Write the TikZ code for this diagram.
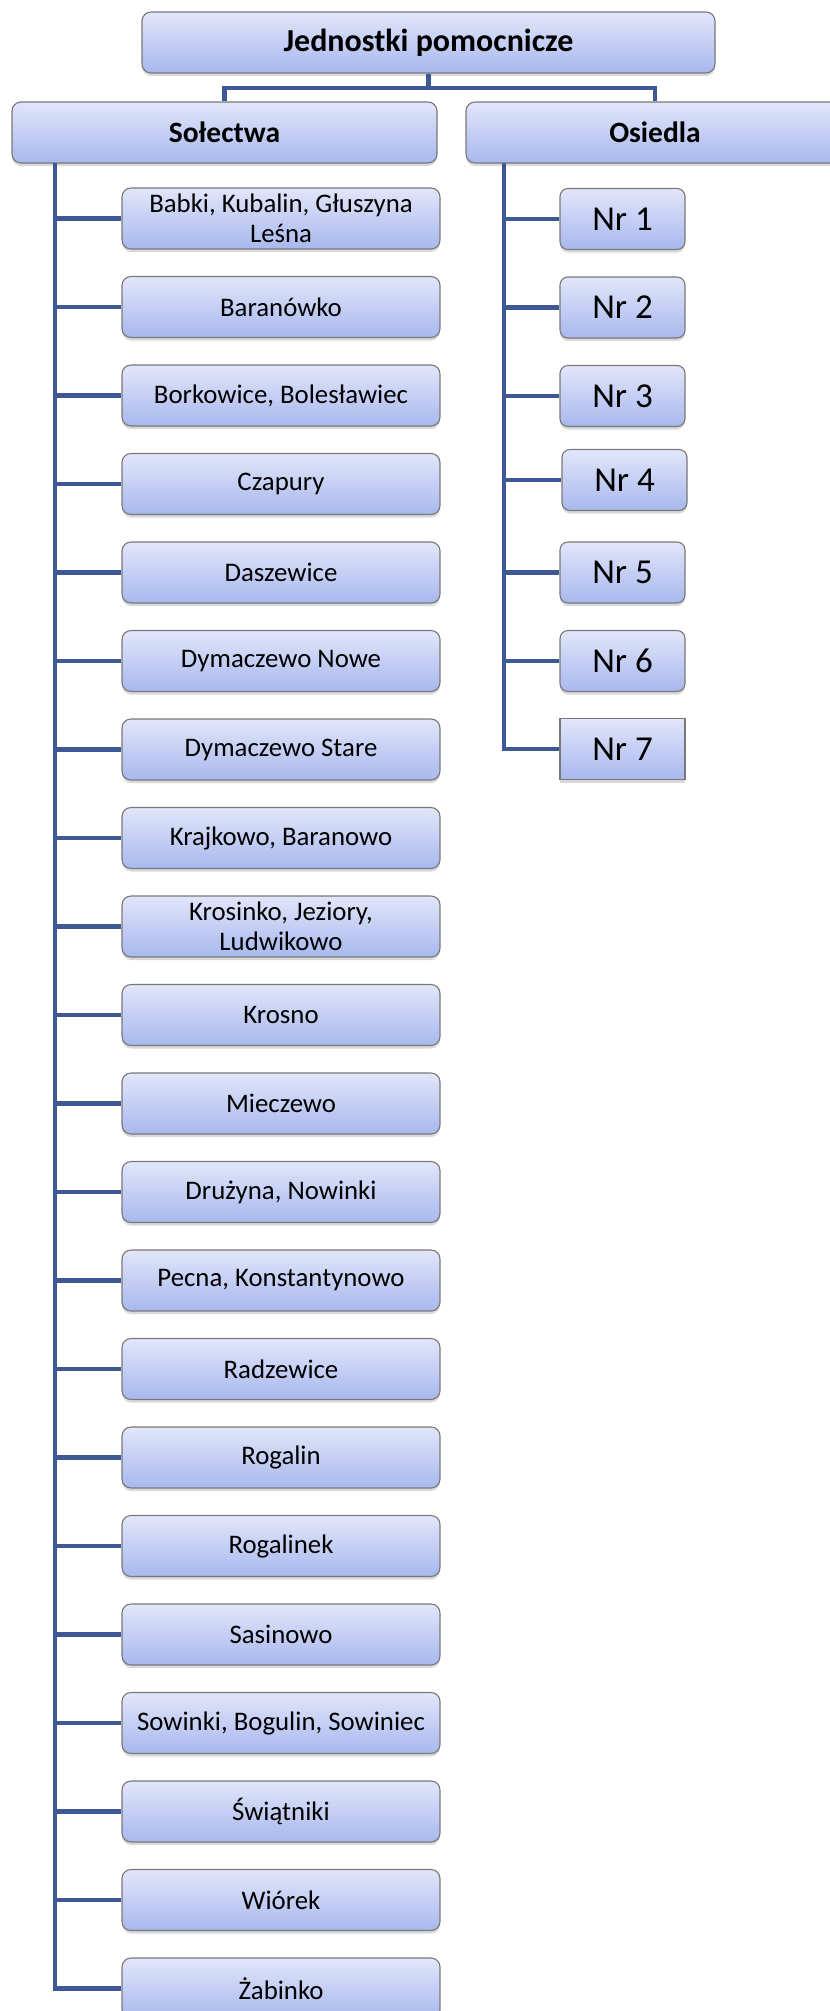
\documentclass[tikz,border=0pt]{standalone}
\usepackage{fontspec}
\setmainfont{Carlito}
\usetikzlibrary{shadows}
\definecolor{conncol}{RGB}{62,88,150}
\definecolor{boxtop}{RGB}{226,230,250}
\definecolor{boxbot}{RGB}{168,184,238}
\definecolor{boxline}{RGB}{120,120,120}
\tikzset{
  boxbase/.style={draw=boxline, line width=1.1pt, top color=boxtop, bottom color=boxbot,
    inner sep=0pt, align=center, text=black,
    drop shadow={shadow xshift=0pt, shadow yshift=-3pt, opacity=0.3}},
  headbox/.style={boxbase, rounded corners=9pt, minimum height=61pt, font=\fontsize{29.5}{33}\selectfont\bfseries},
  itembox/.style={boxbase, rounded corners=9pt, minimum width=318pt, minimum height=61pt,
    font=\fontsize{26.8}{29.5}\selectfont},
  nrbox/.style={boxbase, rounded corners=8pt, minimum width=125pt, minimum height=61pt,
    font=\fontsize{35}{40}\selectfont},
  nrsq/.style={boxbase, rounded corners=0pt, minimum width=125pt, minimum height=61pt,
    font=\fontsize{35}{40}\selectfont},
  conn/.style={draw=conncol, line width=4.7pt, line join=miter}
}
\begin{document}
\begin{tikzpicture}[x=1pt,y=-1pt]
\useasboundingbox (0,0) rectangle (830,2011);
\begin{scope}
\clip (0,0) rectangle (830,2011);
\coordinate (j) at (428.5,88);
\coordinate (st) at (55,163);
\coordinate (ot) at (504,163);

\node[headbox, minimum width=573pt, font=\fontsize{32}{36}\selectfont\bfseries] (top) at (428.5,42.5) {Jednostki pomocnicze};
\node[headbox, minimum width=425pt] (sol) at (224.5,132.5) {Sołectwa};
\node[headbox, minimum width=378pt] (osi) at (655,132.5) {Osiedla};

\draw[conn] (top.south) -- (j);
\draw[conn] (j) -| (sol.north);
\draw[conn] (j) -| (osi.north);

\foreach \i/\t in {0/{Babki, Kubalin, Głuszyna\\Leśna},
                   1/{Baranówko},
                   2/{Borkowice, Bolesławiec},
                   3/{Czapury},
                   4/{Daszewice},
                   5/{Dymaczewo Nowe},
                   6/{Dymaczewo Stare},
                   7/{Krajkowo, Baranowo},
                   8/{Krosinko, Jeziory,\\Ludwikowo},
                   9/{Krosno},
                   10/{Mieczewo},
                   11/{Drużyna, Nowinki},
                   12/{Pecna, Konstantynowo},
                   13/{Radzewice},
                   14/{Rogalin},
                   15/{Rogalinek},
                   16/{Sasinowo},
                   17/{Sowinki, Bogulin, Sowiniec},
                   18/{Świątniki},
                   19/{Wiórek},
                   20/{Żabinko}}{
  \node[itembox] (s\i) at (281,218.5+\i*88.5) {\t};
  \draw[conn] (st |- s\i.west) -- (s\i.west);
}
\draw[conn] (st) |- (s20.west);

\node[nrbox] (n1) at (622.5,219) {Nr 1};
\node[nrbox] (n2) at (622.5,307.5) {Nr 2};
\node[nrbox] (n3) at (622.5,396) {Nr 3};
\node[nrbox] (n4) at (624.5,480) {Nr 4};
\node[nrbox] (n5) at (622.5,572.5) {Nr 5};
\node[nrbox] (n6) at (622.5,661) {Nr 6};
\node[nrsq] (n7) at (622.5,749) {Nr 7};
\foreach \k in {1,...,6}{
  \draw[conn] (ot |- n\k.west) -- (n\k.west);
}
\draw[conn] (ot) |- (n7.west);
\end{scope}
\end{tikzpicture}
\end{document}
